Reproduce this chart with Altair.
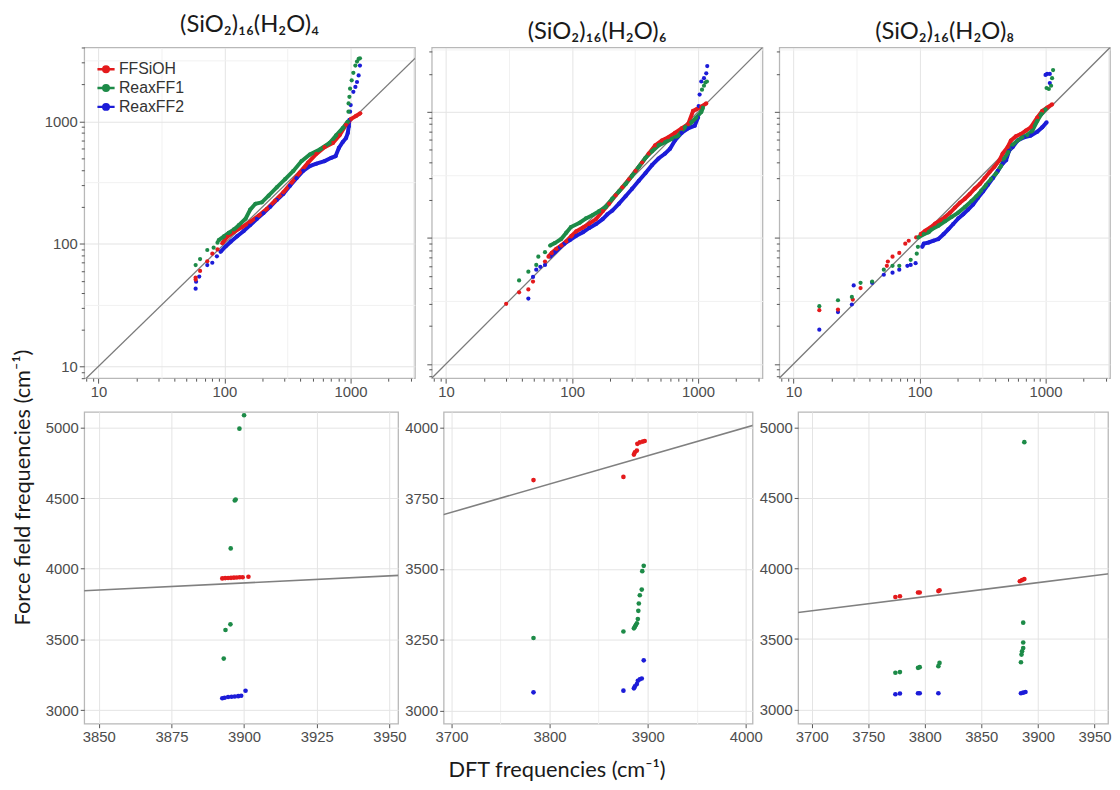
import altair as alt
import pandas as pd

SERIES = ["FFSiOH", "ReaxFF1", "ReaxFF2"]
COLORS = ["#e41a1c", "#1d8b48", "#1c1cd8"]
DRAW_ORDER = ["ReaxFF2", "FFSiOH", "ReaxFF1"]
PANEL_TITLES = ["(SiO₂)₁₆(H₂O)₄", "(SiO₂)₁₆(H₂O)₆", "(SiO₂)₁₆(H₂O)₈"]
X_TITLE = "DFT frequencies (cm⁻¹)"
Y_TITLE = "Force field frequencies (cm⁻¹)"

# ---------------- top row: log-log, (DFT, force field) pairs ----------------
T1_FF_SCATTER = [(59, 51), (59, 53), (64, 60), (73, 72), (80, 83), (88, 90)]
T1_FF_CURVE = [(96, 101), (105, 114), (119, 125), (138, 137), (160, 151), (187, 170), (217, 193),
               (252, 225), (293, 263), (341, 316), (396, 381), (461, 459), (536, 542), (623, 614),
               (726, 665), (819, 767), (923, 935), (1011, 1045), (1107, 1105), (1197, 1161)]
T1_FF_SPIKE = []
T1_R1_SCATTER = [(59, 67), (64, 75), (73, 89), (82, 93), (88, 102)]
T1_R1_CURVE = [(90, 107), (99, 115), (108, 123), (119, 131), (130, 142), (147, 160), (160, 190),
               (176, 212), (198, 218), (224, 247), (260, 289), (303, 337), (352, 393), (409, 473),
               (476, 535), (570, 588), (683, 665), (770, 767), (869, 879), (952, 995)]
T1_R1_SPIKE = [(964, 1197), (966, 1397), (981, 1581), (993, 1845), (1023, 2157), (1054, 2485),
               (1094, 2849), (1127, 3071), (1161, 3223), (1189, 3267)]
T1_R2_SCATTER = [(59, 43), (59.5, 49), (63, 54), (73, 67), (80, 70), (87, 79)]
T1_R2_CURVE = [(93, 86), (102, 95), (112, 104), (126, 115), (142, 127), (160, 142), (181, 160),
               (204, 178), (231, 201), (260, 228), (293, 255), (331, 297), (373, 343), (421, 393),
               (476, 431), (536, 450), (623, 473), (704, 503), (761, 519), (809, 606), (869, 677),
               (923, 730), (952, 801), (969, 906), (981, 1025)]
T1_R2_SPIKE = [(993, 1197), (1004, 1355), (1054, 1737), (1094, 1906), (1127, 2090), (1161, 2365),
               (1189, 2849)]

T2_FF_SCATTER = [(30, 30), (38, 37), (45, 39), (49, 45), (61, 65)]
T2_FF_CURVE = [(65, 71), (69, 76), (75, 82), (82, 87), (90, 94), (99, 104), (108, 113), (122, 121),
               (137, 130), (155, 141), (175, 163), (197, 187), (222, 218), (251, 252), (283, 292),
               (319, 340), (360, 397), (406, 467), (457, 542), (516, 593), (582, 630), (656, 681),
               (741, 741), (835, 801), (914, 1019), (971, 1050), (1062, 1101), (1163, 1169)]
T2_FF_SPIKE = []
T2_R1_SCATTER = [(38, 46), (45, 54), (52, 61), (54, 71), (61, 77)]
T2_R1_CURVE = [(67, 87), (73, 91), (82, 98), (90, 110), (98, 122), (115, 132), (129, 143), (146, 152),
               (164, 163), (185, 176), (209, 205), (236, 234), (266, 267), (300, 312), (339, 367),
               (382, 431), (431, 486), (486, 542), (548, 575), (618, 611), (697, 649), (787, 755),
               (887, 826), (971, 904), (1062, 1000), (1094, 1081)]
T2_R1_SPIKE = [(1076, 1503), (1115, 1615), (1143, 1714), (1177, 1745)]
T2_R2_SCATTER = [(45, 33), (49, 49), (52, 56), (56, 59), (61, 61)]
T2_R2_CURVE = [(67, 71), (73, 77), (80, 84), (87, 90), (96, 96), (108, 104), (122, 111), (137, 120),
               (155, 129), (175, 141), (191, 154), (209, 165), (236, 187), (266, 214), (300, 246),
               (339, 284), (382, 326), (431, 378), (486, 427), (548, 467), (600, 511), (656, 593),
               (741, 681), (835, 741), (942, 778), (1000, 904)]
T2_R2_SPIKE = [(1012, 1114), (1030, 1374), (1062, 1745), (1115, 1853), (1163, 2028), (1184, 2312)]

T3_FF_SCATTER = [(16, 26.7), (22.5, 27), (29.5, 32.4), (34, 40), (55, 60), (56, 65), (61, 71),
                 (69, 76), (77, 90), (82, 95), (94, 101)]
T3_FF_CURVE = [(102, 107), (111, 114), (122, 121), (133, 130), (146, 138), (160, 147), (175, 159),
               (191, 174), (209, 190), (229, 205), (250, 223), (274, 246), (300, 267), (328, 298),
               (359, 332), (393, 367), (431, 414), (457, 467), (500, 526), (531, 593), (582, 641),
               (637, 668), (697, 710), (763, 755), (861, 904), (942, 1019), (1030, 1081), (1127, 1148)]
T3_FF_SPIKE = []
T3_R1_SCATTER = [(16, 28.7), (22.5, 32), (29, 34), (34, 44), (42, 45), (52, 56), (61, 60), (69, 60),
                 (85, 67), (95, 75), (97, 85)]
T3_R1_CURVE = [(98, 101), (108, 107), (118, 111), (125, 117), (141, 125), (160, 136), (180, 147),
               (203, 159), (229, 176), (258, 196), (283, 214), (309, 237), (338, 264), (370, 294),
               (406, 326), (444, 374), (471, 427), (507, 481), (548, 549), (600, 593), (656, 630),
               (718, 658), (785, 710), (861, 851), (925, 960), (1000, 1050)]
T3_R1_SPIKE = [(1019, 1549), (1062, 1521), (1107, 1615), (1127, 1853), (1148, 2152)]
T3_R2_SCATTER = [(16, 18.7), (22.5, 25.8), (29, 29.6), (30, 42), (42, 44), (52, 51), (61, 53),
                 (69, 56), (80, 60), (85, 61), (93, 63)]
T3_R2_CURVE = [(105, 85), (108, 90), (118, 92), (129, 95), (141, 98), (155, 107), (169, 117),
               (185, 129), (203, 143), (222, 154), (243, 168), (266, 184), (291, 208), (319, 234),
               (349, 264), (382, 298), (418, 340), (457, 390), (486, 414), (515, 495), (548, 526),
               (600, 593), (677, 630), (763, 649), (861, 698), (942, 755), (1019, 826)]
T3_R2_SPIKE = [(1000, 1968), (1030, 2004), (1081, 2004), (1081, 1694)]

# ---------------- bottom row: linear, O-H stretch region ----------------
B1_FF_X = [3892.5, 3893.5, 3894.5, 3895.5, 3896.5, 3897.5, 3898.5, 3899.5, 3901.5]
B1_FF_Y = [3932, 3934, 3935, 3936, 3937, 3938, 3940, 3940, 3944]
B1_R1_X = [3900, 3898.4, 3896.8, 3897.1, 3895.4, 3895.3, 3893.6, 3893.0]
B1_R1_Y = [5086, 4991, 4483, 4490, 4144, 3607, 3567, 3365]
B1_R2_X = [3892.5, 3893.3, 3894.5, 3895.7, 3896.8, 3898, 3899, 3900.5]
B1_R2_Y = [3084, 3088, 3093, 3095, 3097, 3099, 3102, 3137]

B2_FF_X = [3783.6, 3875.3, 3886, 3887, 3889, 3889.5, 3892, 3895, 3897]
B2_FF_Y = [3814, 3825, 3904, 3912, 3918, 3942, 3947, 3950, 3952]
B2_R1_X = [3783.6, 3875.3, 3886, 3887, 3888, 3889, 3890, 3890.5, 3891, 3892, 3894, 3894.5, 3896]
B2_R1_Y = [3256, 3279, 3290, 3296, 3302, 3308, 3323, 3352, 3378, 3407, 3427, 3492, 3511]
B2_R2_X = [3783.6, 3875.3, 3886, 3887, 3889, 3890, 3892, 3894, 3896]
B2_R2_Y = [3064, 3070, 3078, 3085, 3093, 3105, 3110, 3113, 3177]

B3_FF_X = [3774, 3778, 3794, 3795.5, 3812, 3813, 3884, 3886, 3888]
B3_FF_Y = [3798, 3803, 3830, 3830, 3840, 3845, 3910, 3918, 3925]
B3_R1_X = [3774, 3778, 3794, 3795.5, 3812, 3813, 3888, 3887, 3887, 3887, 3886, 3885.5, 3885]
B3_R1_Y = [3261, 3266, 3296, 3301, 3308, 3331, 4895, 3616, 3476, 3436, 3413, 3390, 3336]
B3_R2_X = [3774, 3778, 3794, 3795.5, 3812, 3885, 3887, 3889]
B3_R2_Y = [3109, 3114, 3116, 3116, 3116, 3116, 3120, 3125]

# axis ranges / ticks
LOG_X_DOMAIN = [7.7, 3250]
LOG_Y_DOMAINS = [[8, 4000], [7.7, 3250], [7.7, 3250]]
LOG_MAJOR = [10, 100, 1000]
LOG_HALF = [31.62, 316.2, 3162]
LOG_MINOR = [8, 9, 20, 30, 40, 50, 60, 70, 80, 90, 200, 300, 400, 500, 600, 700, 800, 900, 2000, 3000]
LOG_MINOR_EXTRA = [4000]
DIAG_LOG = [1, 10000]
DIAG_LIN = [2500, 5500]

B_X_DOMAINS = [[3845, 3953], [3692, 4007], [3688, 3962]]
B_Y_DOMAINS = [[2904, 5110], [2953, 4055], [2900, 5110]]
B_X_MAJOR = [[3850, 3875, 3900, 3925, 3950], [3700, 3800, 3900, 4000], [3700, 3750, 3800, 3850, 3900, 3950]]
B_X_MINOR = [[3862.5, 3887.5, 3912.5, 3937.5], [3750, 3850, 3950], [3725, 3775, 3825, 3875, 3925]]
B_Y_MAJOR = [[3000, 3500, 4000, 4500, 5000], [3000, 3250, 3500, 3750, 4000], [3000, 3500, 4000, 4500, 5000]]
B_Y_MINOR = [[3250, 3750, 4250, 4750], [3125, 3375, 3625, 3875], [3250, 3750, 4250, 4750]]

LABEL_FONT = "Liberation Sans"
TITLE_FONT = "Lato, Noto Sans"
GRID_MAJOR = "#e4e4e4"
GRID_MINOR = "#f1f1f1"
LEGEND_SYMBOL = "M-1,0L1,0M-0.32,0A0.32,0.32,0,1,0,0.32,0A0.32,0.32,0,1,0,-0.32,0Z"


def top_frame(parts):
    rows = []
    for s in DRAW_ORDER:
        for kind, pts in zip(("scatter", "curve", "spike"), parts[s]):
            for i, (x, y) in enumerate(pts):
                rows.append({"series": s, "kind": kind, "i": i, "x": x, "y": y})
    return pd.DataFrame(rows)


def bottom_frame(parts):
    rows = []
    for s in DRAW_ORDER:
        xs, ys = parts[s]
        for x, y in zip(xs, ys):
            rows.append({"series": s, "x": x, "y": y})
    return pd.DataFrame(rows)


def in_list(vals):
    return "indexof([" + ",".join(str(v) for v in vals) + "], datum.value) >= 0"


def log_axis(values, show_labels):
    major = in_list(LOG_MAJOR)
    half = in_list(LOG_HALF)
    return alt.Axis(
        values=values, labels=show_labels, title=None, domain=False,
        labelExpr=f"{major} ? format(datum.value, 'd') : ''",
        labelOverlap=False, labelFlush=False, labelPadding=2,
        gridColor={"condition": {"test": major, "value": GRID_MAJOR}, "value": GRID_MINOR},
        gridOpacity={"condition": {"test": f"{major} || {half}", "value": 1}, "value": 0},
        tickSize={"condition": {"test": major, "value": 5}, "value": 3},
        tickOpacity={"condition": {"test": half, "value": 0}, "value": 1},
    )


def lin_axis(major_vals, minor_vals, **kw):
    major = in_list(major_vals)
    return alt.Axis(
        values=major_vals + minor_vals, format="d", domain=False,
        labelExpr=f"{major} ? datum.label : ''",
        labelOverlap=False, labelFlush=False, labelPadding=2,
        gridColor={"condition": {"test": major, "value": GRID_MAJOR}, "value": GRID_MINOR},
        tickSize=4,
        tickOpacity={"condition": {"test": major, "value": 1}, "value": 0},
        **kw,
    )


def color_enc(legend):
    return alt.Color("series:N", scale=alt.Scale(domain=SERIES, range=COLORS), legend=legend)


def top_panel(k, parts):
    df = top_frame(parts)
    xs = alt.Scale(type="log", domain=LOG_X_DOMAIN, nice=False)
    ys = alt.Scale(type="log", domain=LOG_Y_DOMAINS[k], nice=False)
    yvals = LOG_MAJOR + LOG_HALF + LOG_MINOR + (LOG_MINOR_EXTRA if k == 0 else [])
    xvals = LOG_MAJOR + LOG_HALF + LOG_MINOR
    legend = None
    if k == 0:
        legend = alt.Legend(
            title=None, orient="top-left", offset=12, symbolType=LEGEND_SYMBOL, symbolSize=300,
            symbolStrokeWidth=2.5, labelFont="Liberation Sans", labelFontSize=16, labelColor="#333333",
            rowPadding=1, labelOffset=3,
        )
    diag = pd.DataFrame({"x": DIAG_LOG, "y": DIAG_LOG})
    g = alt.Chart(diag).mark_line(color="#7a7a7a", strokeWidth=1.3, clip=True).encode(
        x=alt.X("x:Q", scale=xs, axis=log_axis(xvals, True)),
        y=alt.Y("y:Q", scale=ys, axis=log_axis(yvals, k == 0)),
    )
    base = alt.Chart(df)
    lines = base.transform_filter("datum.kind == 'curve'").mark_line(strokeWidth=4, clip=True).encode(
        x=alt.X("x:Q", scale=xs), y=alt.Y("y:Q", scale=ys), color=color_enc(legend),
        detail="series:N", order="i:Q",
    )
    pts = base.mark_circle(size=18, opacity=1, clip=True).encode(
        x=alt.X("x:Q", scale=xs), y=alt.Y("y:Q", scale=ys), color=color_enc(legend),
    )
    return alt.layer(g, lines, pts).properties(
        width=334, height=334,
        title=alt.TitleParams(PANEL_TITLES[k], font=TITLE_FONT, fontSize=24, fontWeight="normal",
                              color="#1a1a1a", anchor="middle", offset=4),
    )


def bottom_panel(k, parts, width):
    df = bottom_frame(parts)
    xs = alt.Scale(domain=B_X_DOMAINS[k], nice=False, zero=False)
    ys = alt.Scale(domain=B_Y_DOMAINS[k], nice=False, zero=False)
    xkw = {"title": None}
    if k == 1:
        xkw = {"title": X_TITLE, "titleX": 114, "titlePadding": 15}
    diag = pd.DataFrame({"x": DIAG_LIN, "y": DIAG_LIN})
    g = alt.Chart(diag).mark_line(color="#808080", strokeWidth=1.6, clip=True).encode(
        x=alt.X("x:Q", scale=xs, axis=lin_axis(B_X_MAJOR[k], B_X_MINOR[k], **xkw)),
        y=alt.Y("y:Q", scale=ys, axis=lin_axis(B_Y_MAJOR[k], B_Y_MINOR[k], title=None)),
    )
    pts = alt.Chart(df).mark_circle(size=22, opacity=1, clip=True).encode(
        x=alt.X("x:Q", scale=xs), y=alt.Y("y:Q", scale=ys), color=color_enc(None),
    )
    return alt.layer(g, pts).properties(width=width, height=315)


tops = [
    top_panel(0, {"FFSiOH": (T1_FF_SCATTER, T1_FF_CURVE, T1_FF_SPIKE),
                  "ReaxFF1": (T1_R1_SCATTER, T1_R1_CURVE, T1_R1_SPIKE),
                  "ReaxFF2": (T1_R2_SCATTER, T1_R2_CURVE, T1_R2_SPIKE)}),
    top_panel(1, {"FFSiOH": (T2_FF_SCATTER, T2_FF_CURVE, T2_FF_SPIKE),
                  "ReaxFF1": (T2_R1_SCATTER, T2_R1_CURVE, T2_R1_SPIKE),
                  "ReaxFF2": (T2_R2_SCATTER, T2_R2_CURVE, T2_R2_SPIKE)}),
    top_panel(2, {"FFSiOH": (T3_FF_SCATTER, T3_FF_CURVE, T3_FF_SPIKE),
                  "ReaxFF1": (T3_R1_SCATTER, T3_R1_CURVE, T3_R1_SPIKE),
                  "ReaxFF2": (T3_R2_SCATTER, T3_R2_CURVE, T3_R2_SPIKE)}),
]
bottoms = [
    bottom_panel(0, {"FFSiOH": (B1_FF_X, B1_FF_Y), "ReaxFF1": (B1_R1_X, B1_R1_Y),
                     "ReaxFF2": (B1_R2_X, B1_R2_Y)}, 317),
    bottom_panel(1, {"FFSiOH": (B2_FF_X, B2_FF_Y), "ReaxFF1": (B2_R1_X, B2_R1_Y),
                     "ReaxFF2": (B2_R2_X, B2_R2_Y)}, 312),
    bottom_panel(2, {"FFSiOH": (B3_FF_X, B3_FF_Y), "ReaxFF1": (B3_R1_X, B3_R1_Y),
                     "ReaxFF2": (B3_R2_X, B3_R2_Y)}, 313),
]

top_row = alt.hconcat(*tops, spacing=17, bounds="flush").resolve_scale(color="independent")
bottom_row = alt.hconcat(*bottoms, spacing=46, bounds="flush").resolve_scale(color="independent")

chart = (
    alt.vconcat(top_row, bottom_row, spacing=10)
    .resolve_scale(color="independent")
    .properties(
        padding={"left": 3, "top": 0, "right": 0, "bottom": 0},
        title=alt.TitleParams(Y_TITLE, orient="left", anchor="middle", dx=-92, offset=9,
                              font=TITLE_FONT, fontSize=22, fontWeight="normal", color="#1a1a1a"),
    )
    .configure_axis(
        labelFont=LABEL_FONT, labelFontSize=15, labelColor="#4d4d4d", tickColor="#555555",
        titleFont=TITLE_FONT, titleFontSize=22, titleFontWeight="normal", titleColor="#1a1a1a",
    )
    .configure_view(stroke="#b8b8b8", strokeWidth=1.3)
)

chart.save("out.html", embed_options={"renderer": "svg", "actions": False})
